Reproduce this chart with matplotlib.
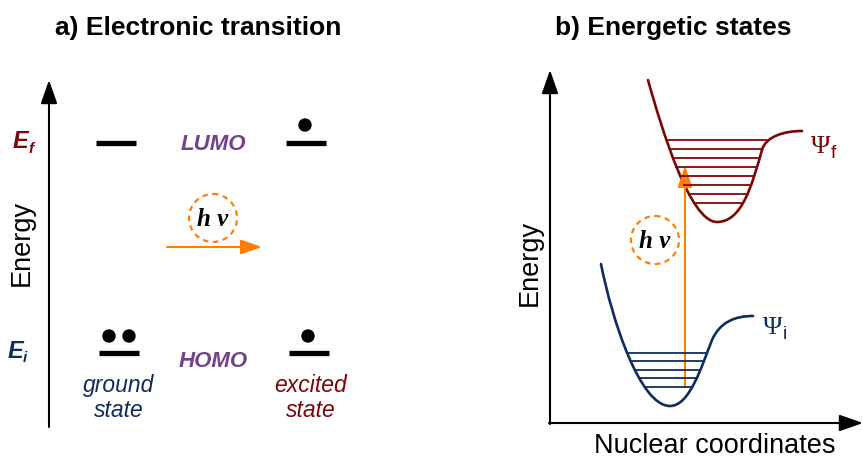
import matplotlib.pyplot as plt
import numpy as np
from matplotlib.patches import Circle, FancyArrowPatch, PathPatch
from matplotlib.path import Path

RED = '#7c0606'
BLUE = '#0f2d5c'
PURPLE = '#74418b'
ORANGE = '#ff8000'

# panel a: orbital levels (pixel coordinates of the drawing)
LEVEL_Y = {'LUMO': 143, 'HOMO': 353}
LEVEL_X = {'ground': (96, 136), 'excited': (286, 326)}
GROUND_HOMO_X = (99, 139)
EXCITED_HOMO_X = (289, 329)
ELECTRONS_GROUND = [(109, 336), (129, 336)]
ELECTRONS_EXCITED = [(305, 125), (308, 336)]

# panel b: potential curves as cubic bezier control points
UPPER_CURVE = [(648, 80), (662, 130), (690, 222), (717, 222),
               (742, 222), (752, 185), (762, 150),
               (766, 136), (785, 131), (802, 131)]
LOWER_CURVE = [(601, 264), (612, 320), (640, 406), (670, 406),
               (690, 406), (702, 365), (712, 340),
               (720, 322), (735, 316), (753, 316)]
UPPER_LEVELS = [140, 149, 158, 167, 176, 185, 194, 203]
LOWER_LEVELS = [353, 361, 370, 378, 387]


def bezier_points(ctrl, n=80):
    pts = []
    for i in range(0, len(ctrl) - 1, 3):
        p0, p1, p2, p3 = [np.array(p, float) for p in ctrl[i:i + 4]]
        t = np.linspace(0, 1, n)[:, None]
        pts.append((1 - t) ** 3 * p0 + 3 * (1 - t) ** 2 * t * p1 + 3 * (1 - t) * t ** 2 * p2 + t ** 3 * p3)
    return np.vstack(pts)


def draw_well(ax, ctrl, levels, color):
    codes = [Path.MOVETO] + [Path.CURVE4] * (len(ctrl) - 1)
    ax.add_patch(PathPatch(Path(ctrl, codes), fill=False, ec=color, lw=1.9, capstyle='round'))
    pts = bezier_points(ctrl)
    imin = np.argmax(pts[:, 1])
    left = pts[:imin + 1]
    right = pts[imin:]
    right = right[:np.argmin(right[:, 1]) + 1]
    for y in levels:
        xl = np.interp(y, left[:, 1], left[:, 0])
        xr = np.interp(y, right[::-1, 1], right[::-1, 0])
        ax.plot([xl, xr], [y, y], color=color, lw=1.3)


def arrow(ax, start, end, color, lw=1.5, scale=18):
    ax.add_patch(FancyArrowPatch(start, end, arrowstyle='-|>,head_length=0.8,head_width=0.28',
                                 mutation_scale=scale, color=color, lw=lw, shrinkA=0, shrinkB=0))


def photon(ax, x, y):
    ax.add_patch(Circle((x, y), 24, fill=False, ec=ORANGE, lw=1.6, ls=(0, (2.5, 2))))
    ax.text(x, y + 1, 'h ν', family='Liberation Serif', weight='bold', style='italic',
            fontsize=18, ha='center', va='center')


fig = plt.figure(figsize=(8.63, 4.61), dpi=100)
ax = fig.add_axes([0, 0, 1, 1])
ax.set_xlim(0, 863)
ax.set_ylim(461, 0)
ax.axis('off')

sans = 'Liberation Sans'

# ---- panel a
ax.text(198, 28, 'a) Electronic transition', family=sans, weight='bold', fontsize=19,
        ha='center', va='center')
arrow(ax, (49, 427), (49, 80), 'black')
ax.text(22, 243, 'Energy', family=sans, fontsize=19.5, rotation=90, ha='center', va='center')

ax.text(20, 141, 'E', family=sans, weight='bold', style='italic', fontsize=17, color=RED,
        ha='center', va='center')
ax.text(31, 149, 'f', family=sans, weight='bold', style='italic', fontsize=11, color=RED,
        ha='center', va='center')
ax.text(15, 351, 'E', family=sans, weight='bold', style='italic', fontsize=17, color=BLUE,
        ha='center', va='center')
ax.text(25, 358, 'i', family=sans, weight='bold', style='italic', fontsize=11, color=BLUE,
        ha='center', va='center')

ax.plot(LEVEL_X['ground'], [LEVEL_Y['LUMO']] * 2, color='black', lw=3.8, solid_capstyle='butt')
ax.plot(LEVEL_X['excited'], [LEVEL_Y['LUMO']] * 2, color='black', lw=3.8, solid_capstyle='butt')
ax.plot(GROUND_HOMO_X, [LEVEL_Y['HOMO']] * 2, color='black', lw=3.8, solid_capstyle='butt')
ax.plot(EXCITED_HOMO_X, [LEVEL_Y['HOMO']] * 2, color='black', lw=3.8, solid_capstyle='butt')
for x, y in ELECTRONS_GROUND + ELECTRONS_EXCITED:
    ax.add_patch(Circle((x, y), 6, color='black'))

ax.text(213, 144, 'LUMO', family=sans, weight='bold', style='italic', fontsize=16,
        color=PURPLE, ha='center', va='center')
ax.text(213, 361, 'HOMO', family=sans, weight='bold', style='italic', fontsize=16,
        color=PURPLE, ha='center', va='center')
ax.text(119, 398, 'ground\nstate', family=sans, style='italic', fontsize=16.5, color=BLUE,
        ha='center', va='center', linespacing=1.15)
ax.text(311, 398, 'excited\nstate', family=sans, style='italic', fontsize=16.5, color=RED,
        ha='center', va='center', linespacing=1.15)

photon(ax, 213, 218)
arrow(ax, (167, 247), (262, 247), ORANGE, lw=1.5, scale=16)

# ---- panel b
ax.text(673, 28, 'b) Energetic states', family=sans, weight='bold', fontsize=19,
        ha='center', va='center')
arrow(ax, (550, 424), (550, 70), 'black')
arrow(ax, (549, 423), (863, 423), 'black')
ax.text(530, 263, 'Energy', family=sans, fontsize=19.5, rotation=90, ha='center', va='center')
ax.text(715, 446, 'Nuclear coordinates', family=sans, fontsize=19.5, ha='center', va='center')

draw_well(ax, UPPER_CURVE, UPPER_LEVELS, RED)
draw_well(ax, LOWER_CURVE, LOWER_LEVELS, BLUE)

arrow(ax, (685, 387), (685, 166), ORANGE, lw=1.5, scale=16)
photon(ax, 655, 240)

ax.text(811, 147, 'Ψ', family='Liberation Serif', fontsize=19, color=RED, ha='left', va='center')
ax.text(831, 153, 'f', family=sans, fontsize=14, color=RED, ha='left', va='center')
ax.text(763, 328, 'Ψ', family='Liberation Serif', fontsize=19, color=BLUE, ha='left', va='center')
ax.text(783, 334, 'i', family=sans, fontsize=14, color=BLUE, ha='left', va='center')

fig.savefig('out.png', dpi=100)
